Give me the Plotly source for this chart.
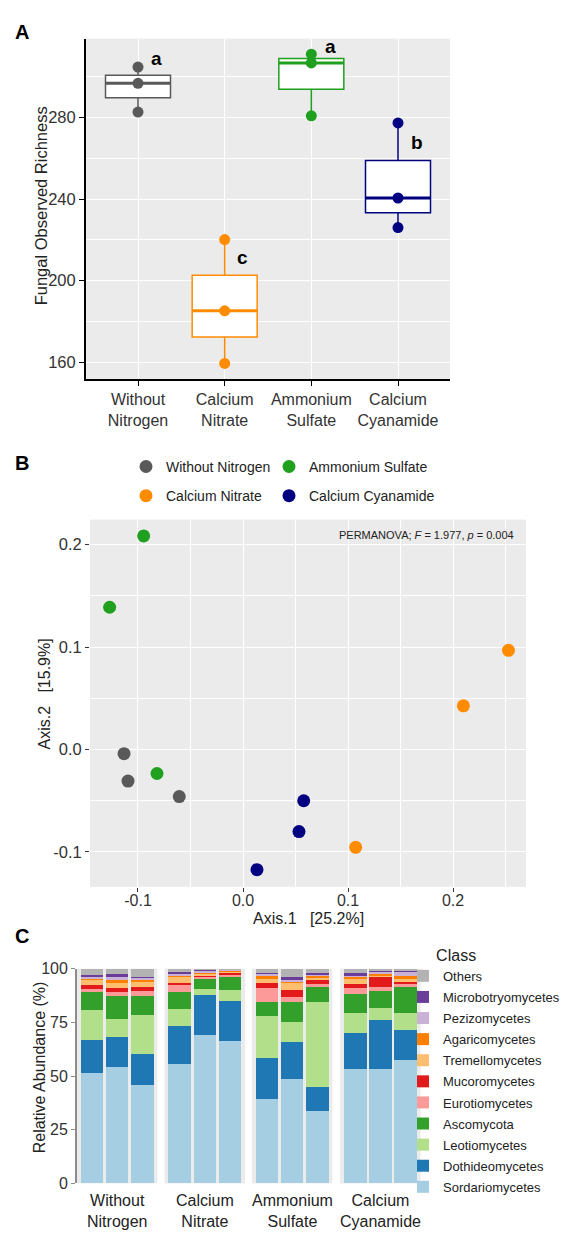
import statistics
import plotly.graph_objects as go

# ---------------- data ----------------
groups = ["Without Nitrogen", "Calcium Nitrate", "Ammonium Sulfate", "Calcium Cyanamide"]
group_labels = ["Without<br>Nitrogen", "Calcium<br>Nitrate", "Ammonium<br>Sulfate", "Calcium<br>Cyanamide"]
group_colors = ["#595959", "#FF8C00", "#1FA01F", "#000080"]

# Panel A: fungal observed richness (3 replicates per treatment)
richness_wn = [282.6, 296.7, 304.7]
richness_cn = [159.4, 185.2, 220.1]
richness_as = [280.8, 306.7, 311.0]
richness_cc = [226.0, 240.5, 277.3]
richness = [richness_wn, richness_cn, richness_as, richness_cc]
sig_letters = ["a", "c", "a", "b"]
letter_x = [0.21, 1.21, 2.22, 3.22]
letter_y = [308.9, 211.1, 314.7, 267.5]
a_yticks = [160, 200, 240, 280]
a_minor = [180, 220, 260, 300]

# Panel B: PCoA coordinates
pcoa_wn_x = [-0.1133, -0.1095, -0.0607]
pcoa_wn_y = [-0.0041, -0.0308, -0.0459]
pcoa_cn_x = [0.2528, 0.2099, 0.1073]
pcoa_cn_y = [0.0968, 0.0426, -0.0955]
pcoa_as_x = [-0.0946, -0.1270, -0.0819]
pcoa_as_y = [0.2084, 0.1388, -0.0234]
pcoa_cc_x = [0.0578, 0.0533, 0.0133]
pcoa_cc_y = [-0.0500, -0.0801, -0.1173]
pcoa_x = [pcoa_wn_x, pcoa_cn_x, pcoa_as_x, pcoa_cc_x]
pcoa_y = [pcoa_wn_y, pcoa_cn_y, pcoa_as_y, pcoa_cc_y]
b_ticks = [-0.1, 0.0, 0.1, 0.2]
b_ticktext = ["-0.1", "0.0", "0.1", "0.2"]
permanova_text = "PERMANOVA; <i>F</i> = 1.977, <i>p</i> = 0.004"

# Panel C: relative abundance (%) by class, 12 samples (3 per treatment)
sample_ids = ["WN1", "WN2", "WN3", "CN1", "CN2", "CN3",
              "AS1", "AS2", "AS3", "CC1", "CC2", "CC3"]
sordariomycetes   = [51.3, 54.2, 45.7, 55.4, 69.0, 66.1, 39.3, 48.5, 33.5, 53.1, 53.1, 57.7]
dothideomycetes   = [15.4, 13.8, 14.4, 17.9, 18.6, 18.7, 19.0, 17.5, 11.5, 16.9, 23.0, 13.8]
leotiomycetes     = [14.0, 8.6, 18.3, 8.0, 3.1, 5.1, 19.6, 9.0, 39.3, 9.2, 5.4, 7.7]
ascomycota        = [8.3, 10.9, 9.1, 8.0, 4.3, 6.6, 6.6, 9.7, 7.6, 8.9, 8.1, 12.2]
eurotiomycetes    = [1.7, 1.6, 1.9, 2.9, 1.3, 0.7, 6.6, 2.3, 0.9, 2.7, 1.8, 2.0]
mucoromycetes     = [1.8, 2.0, 2.2, 1.0, 0.9, 1.0, 2.3, 3.0, 1.9, 2.2, 4.6, 0.7]
tremellomycetes   = [2.0, 2.3, 2.4, 2.8, 0.7, 0.6, 1.9, 3.3, 1.2, 2.3, 1.1, 0.9]
agaricomycetes    = [1.2, 1.1, 1.1, 1.0, 0.7, 0.5, 1.8, 1.0, 0.9, 1.2, 0.8, 1.8]
pezizomycetes     = [0.8, 2.0, 0.8, 0.8, 0.5, 0.3, 0.6, 0.8, 0.6, 0.7, 0.9, 1.9]
microbotryomycetes = [0.5, 0.9, 0.3, 0.6, 0.5, 0.3, 0.5, 0.8, 0.4, 0.8, 0.4, 0.3]
others            = [3.0, 2.6, 3.8, 1.6, 0.4, 0.1, 1.8, 4.1, 2.2, 2.0, 0.8, 1.0]

class_names = ["Sordariomycetes", "Dothideomycetes", "Leotiomycetes", "Ascomycota",
               "Eurotiomycetes", "Mucoromycetes", "Tremellomycetes", "Agaricomycetes",
               "Pezizomycetes", "Microbotryomycetes", "Others"]
class_values = [sordariomycetes, dothideomycetes, leotiomycetes, ascomycota,
                eurotiomycetes, mucoromycetes, tremellomycetes, agaricomycetes,
                pezizomycetes, microbotryomycetes, others]
class_colors = ["#A6CEE3", "#1F78B4", "#B2DF8A", "#33A02C", "#FB9A99", "#E31A1C",
                "#FDBF6F", "#FF7F00", "#CAB2D6", "#6A3D9A", "#B3B3B3"]
c_yticks = [0, 25, 50, 75, 100]

# ---------------- layout helpers ----------------
W, H = 569, 1233
FONT = "Liberation Sans, Arial, sans-serif"
TICK = "#333333"
TITLE = "#222222"
BG = "#EBEBEB"
BOX_WIDTH = 0.75


def fx(p):
    return p / W


def fy(p):
    return 1 - p / H


fig = go.Figure()

# ---------------- Panel A ----------------
for g, vals, col in zip(groups, richness, group_colors):
    fig.add_trace(go.Box(
        x=[g] * len(vals), y=vals, name=g, xaxis="x", yaxis="y",
        boxpoints=False, quartilemethod="inclusive",
        line=dict(color=col, width=1.5), fillcolor="white",
        whiskerwidth=0, width=BOX_WIDTH, showlegend=False, hoverinfo="y"))
# thicker median segments (ggplot style) on an overlaid numeric axis
for i, (vals, col) in enumerate(zip(richness, group_colors)):
    med = statistics.median(vals)
    fig.add_trace(go.Scatter(
        x=[i - BOX_WIDTH / 2, i + BOX_WIDTH / 2], y=[med, med], mode="lines",
        xaxis="x7", yaxis="y", line=dict(color=col, width=3),
        showlegend=False, hoverinfo="skip"))
for g, vals, col in zip(groups, richness, group_colors):
    fig.add_trace(go.Scatter(
        x=[g] * len(vals), y=vals, mode="markers", xaxis="x", yaxis="y",
        marker=dict(color=col, size=11), showlegend=False, name=g))

# ---------------- Panel B ----------------
legend_of = ["legend2", "legend2", "legend3", "legend3"]
for g, xs, ys, col, lg in zip(groups, pcoa_x, pcoa_y, group_colors, legend_of):
    fig.add_trace(go.Scatter(
        x=xs, y=ys, mode="markers", name=g, xaxis="x2", yaxis="y2",
        marker=dict(color=col, size=13), legend=lg, legendgroup=g,
        showlegend=True))

# ---------------- Panel C ----------------
n_cls = len(class_names)
for f in range(4):
    xs = sample_ids[3 * f:3 * f + 3]
    for k, (cname, vals, col) in enumerate(zip(class_names, class_values, class_colors)):
        fig.add_trace(go.Bar(
            x=xs, y=vals[3 * f:3 * f + 3], name=cname,
            xaxis="x%d" % (3 + f), yaxis="y3",
            marker=dict(color=col, line=dict(width=0)),
            legend="legend", legendgroup=cname, legendrank=100 + (n_cls - k),
            showlegend=(f == 0)))

facet_left = [68.8, 156.6, 243.9, 332.1]
facet_w = 80.5

layout_axes = dict(
    xaxis=dict(domain=[fx(78), fx(442)], anchor="y", type="category",
               categoryorder="array", categoryarray=groups, range=[-0.6, 3.6],
               tickvals=groups, ticktext=group_labels,
               showgrid=True, gridcolor="white", gridwidth=1.2,
               showline=True, linecolor="black", linewidth=2,
               ticks="outside", ticklen=5, tickcolor="black", tickwidth=1.2,
               tickfont=dict(size=16, color=TICK), zeroline=False),
    xaxis7=dict(domain=[fx(78), fx(442)], anchor="y", overlaying="x",
                range=[-0.6, 3.6], visible=False),
    yaxis=dict(domain=[fy(368), fy(23)], anchor="x", range=[151.8, 318.6],
               tickvals=a_yticks, showgrid=True, gridcolor="white", gridwidth=1.2,
               minor=dict(tickvals=a_minor, showgrid=True, gridcolor="white",
                          gridwidth=0.6),
               showline=True, linecolor="black", linewidth=2,
               ticks="outside", ticklen=5, tickcolor="black", tickwidth=1.2,
               tickfont=dict(size=16.5, color=TICK), zeroline=False),
    xaxis2=dict(domain=[fx(82), fx(518)], anchor="y2", range=[-0.1457, 0.2695],
                tickvals=b_ticks, ticktext=b_ticktext,
                showgrid=True, gridcolor="white", gridwidth=1.2,
                minor=dict(tickvals=[-0.15, -0.05, 0.05, 0.15, 0.25], showgrid=True,
                           gridcolor="white", gridwidth=0.6),
                ticks="outside", ticklen=4, tickcolor=TICK,
                ticklabelstandoff=-5,
                tickfont=dict(size=16, color=TICK), zeroline=False, showline=False),
    yaxis2=dict(domain=[fy(883), fy(510.7)], anchor="x2", range=[-0.134, 0.2243],
                tickvals=b_ticks, ticktext=b_ticktext,
                showgrid=True, gridcolor="white", gridwidth=1.2,
                minor=dict(tickvals=[-0.05, 0.05, 0.15], showgrid=True,
                           gridcolor="white", gridwidth=0.6),
                ticks="outside", ticklen=4, tickcolor=TICK,
                tickfont=dict(size=16.5, color=TICK), zeroline=False, showline=False),
    yaxis3=dict(domain=[fy(1183.7), fy(966)], anchor="x3", range=[0, 100],
                tickvals=c_yticks, showgrid=False, zeroline=False,
                showline=True, linecolor="#8C8C8C", linewidth=1.5,
                ticks="outside", ticklen=4, tickcolor="#8C8C8C",
                tickfont=dict(size=16, color=TICK)),
)
for f in range(4):
    layout_axes["xaxis%d" % (3 + f)] = dict(
        domain=[fx(facet_left[f]), fx(facet_left[f] + facet_w)], anchor="y3",
        type="category", categoryorder="array",
        categoryarray=sample_ids[3 * f:3 * f + 3], range=[-0.6, 2.6],
        showticklabels=False, ticks="", showgrid=False, zeroline=False,
        showline=False)


def paper_text(text, x, y, size=16, angle=0, xanchor="center", color=TITLE):
    return dict(text=text, x=fx(x), y=fy(y), xref="paper", yref="paper",
                xanchor=xanchor, yanchor="middle", textangle=angle,
                showarrow=False, font=dict(size=size, color=color))


annotations = [
    paper_text("<b>A</b>", 5, 16, size=20, xanchor="left", color="black"),
    paper_text("<b>B</b>", 5, 453, size=20, xanchor="left", color="black"),
    paper_text("<b>C</b>", 5, 933, size=20, xanchor="left", color="black"),
    paper_text("Fungal Observed Richness", 33, 193, size=16.5, angle=-90),
    paper_text("Axis.2\u00a0\u00a0\u00a0[15.9%]", 37, 688, size=16, angle=-90),
    paper_text("Axis.1\u00a0\u00a0\u00a0[25.2%]", 300, 915, size=16),
    paper_text("Relative Abundance (%)", 31, 1066, size=16, angle=-90),
    paper_text(permanova_text, 508, 526, size=11, xanchor="right"),
]
for lx, ly, lt in zip(letter_x, letter_y, sig_letters):
    annotations.append(dict(text="<b>%s</b>" % lt, x=lx, y=ly, xref="x", yref="y",
                            showarrow=False, xanchor="center", yanchor="middle",
                            font=dict(size=19, color="black")))
for f in range(4):
    annotations.append(dict(text=group_labels[f], x=0.5, y=fy(1212),
                            xref="x%d domain" % (3 + f), yref="paper",
                            showarrow=False, xanchor="center", yanchor="middle",
                            font=dict(size=16, color=TITLE)))

fig.update_layout(
    width=W, height=H, autosize=False,
    margin=dict(l=0, r=0, t=0, b=0),
    paper_bgcolor="white", plot_bgcolor=BG,
    font=dict(family=FONT, color=TITLE),
    boxmode="overlay", barmode="stack", bargap=0.1,
    annotations=annotations,
    legend=dict(x=fx(395), y=fy(937), xanchor="left", yanchor="top",
                title=dict(text="\u00a0" * 7 + "Class", font=dict(size=16)),
                font=dict(size=13), traceorder="grouped",
                bgcolor="rgba(0,0,0,0)", tracegroupgap=1.2),
    legend2=dict(x=fx(118), y=fy(441), xanchor="left", yanchor="top",
                 font=dict(size=14), bgcolor="rgba(0,0,0,0)", tracegroupgap=8,
                 orientation="v"),
    legend3=dict(x=fx(261), y=fy(441), xanchor="left", yanchor="top",
                 font=dict(size=14), bgcolor="rgba(0,0,0,0)", tracegroupgap=8,
                 orientation="v"),
    **layout_axes,
)

fig.write_html("out.html")
